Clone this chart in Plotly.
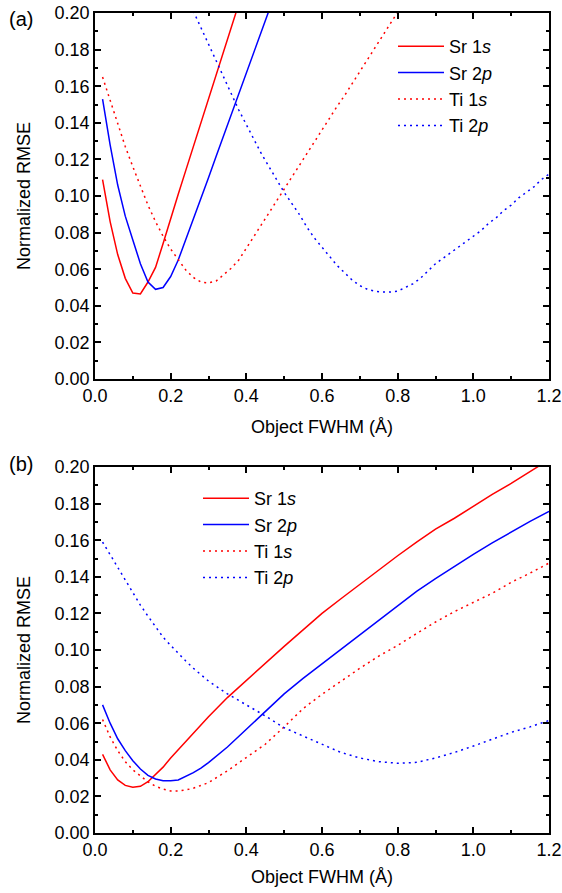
import plotly.graph_objects as go

# ---------------- Data: panel (a) ----------------
x_a_sr1s = [0.02, 0.04, 0.06, 0.08, 0.10, 0.12, 0.14, 0.16, 0.18, 0.20, 0.22, 0.24, 0.26, 0.28,
            0.30, 0.32, 0.34, 0.36, 0.38]
a_sr1s = [0.109, 0.086, 0.068, 0.055, 0.047, 0.0465, 0.053, 0.061, 0.074, 0.088, 0.101, 0.114,
          0.127, 0.140, 0.153, 0.166, 0.179, 0.192, 0.205]

x_a_sr2p = [0.02, 0.04, 0.06, 0.08, 0.10, 0.12, 0.14, 0.16, 0.18, 0.20, 0.22, 0.24, 0.26, 0.28,
            0.30, 0.32, 0.34, 0.36, 0.38, 0.40, 0.42, 0.44, 0.46]
a_sr2p = [0.153, 0.128, 0.106, 0.089, 0.076, 0.063, 0.053, 0.049, 0.050, 0.056, 0.065, 0.076,
          0.0874, 0.0988, 0.110, 0.1216, 0.133, 0.1444, 0.1558, 0.167, 0.1786, 0.190, 0.2014]

x_a_ti1s = [0.02, 0.04, 0.06, 0.08, 0.10, 0.12, 0.14, 0.16, 0.18, 0.20, 0.22, 0.24, 0.26, 0.28,
            0.30, 0.32, 0.34, 0.36, 0.38, 0.40, 0.42, 0.44, 0.46, 0.48, 0.50, 0.52, 0.54, 0.56,
            0.58, 0.60, 0.62, 0.64, 0.66, 0.68, 0.70, 0.72, 0.74, 0.76, 0.78, 0.80, 0.82]
a_ti1s = [0.165, 0.152, 0.139, 0.127, 0.116, 0.105, 0.095, 0.086, 0.078, 0.071, 0.0655, 0.0595,
          0.0555, 0.053, 0.0525, 0.0535, 0.057, 0.0605, 0.065, 0.0715, 0.0775, 0.084, 0.0905,
          0.097, 0.1035, 0.110, 0.1165, 0.123, 0.1295, 0.136, 0.1425, 0.149, 0.155, 0.1615,
          0.168, 0.1745, 0.181, 0.1875, 0.194, 0.2005, 0.207]

x_a_ti2p = [0.26, 0.28, 0.30, 0.32, 0.34, 0.36, 0.38, 0.40, 0.42, 0.44, 0.46, 0.48, 0.50, 0.52,
            0.54, 0.56, 0.58, 0.60, 0.62, 0.64, 0.66, 0.68, 0.70, 0.72, 0.74, 0.76, 0.78, 0.80,
            0.82, 0.84, 0.86, 0.88, 0.90, 0.92, 0.94, 0.96, 0.98, 1.00, 1.02, 1.04, 1.06, 1.08,
            1.10, 1.12, 1.14, 1.16, 1.18, 1.20]
a_ti2p = [0.201, 0.192, 0.183, 0.174, 0.165, 0.156, 0.147, 0.139, 0.131, 0.123, 0.116, 0.109,
          0.102, 0.096, 0.090, 0.083, 0.077, 0.072, 0.067, 0.062, 0.058, 0.054, 0.051, 0.049,
          0.048, 0.0475, 0.0475, 0.048, 0.050, 0.052, 0.055, 0.059, 0.063, 0.066, 0.069, 0.072,
          0.075, 0.078, 0.081, 0.085, 0.088, 0.092, 0.095, 0.099, 0.102, 0.105, 0.109, 0.112]

# ---------------- Data: panel (b) ----------------
x_b = [0.02, 0.04, 0.06, 0.08, 0.10, 0.12, 0.14, 0.16, 0.18, 0.20, 0.22, 0.24, 0.26, 0.28, 0.30,
       0.35, 0.40, 0.45, 0.50, 0.55, 0.60, 0.65, 0.70, 0.75, 0.80, 0.85, 0.90, 0.95, 1.00, 1.05,
       1.10, 1.15, 1.20]
b_sr1s = [0.043, 0.0345, 0.029, 0.026, 0.025, 0.0255, 0.028, 0.032, 0.036, 0.041, 0.0455, 0.050,
          0.0545, 0.059, 0.0635, 0.074, 0.0835, 0.093, 0.102, 0.111, 0.120, 0.128, 0.136, 0.144,
          0.1515, 0.159, 0.166, 0.172, 0.1785, 0.185, 0.191, 0.1975, 0.204]
b_sr2p = [0.070, 0.060, 0.0515, 0.045, 0.0395, 0.035, 0.0315, 0.0295, 0.0285, 0.0285, 0.029,
          0.031, 0.033, 0.0355, 0.0385, 0.047, 0.0565, 0.0665, 0.076, 0.0845, 0.0925, 0.1005,
          0.1085, 0.1165, 0.1245, 0.132, 0.139, 0.1458, 0.1523, 0.1585, 0.1645, 0.1703, 0.1758]
b_ti1s = [0.062, 0.0525, 0.045, 0.039, 0.0345, 0.031, 0.028, 0.0255, 0.024, 0.023, 0.023, 0.0235,
          0.0245, 0.026, 0.0275, 0.034, 0.041, 0.0485, 0.058, 0.068, 0.0758, 0.083, 0.090, 0.0967,
          0.1025, 0.109, 0.1153, 0.121, 0.126, 0.131, 0.137, 0.142, 0.1475]
b_ti2p = [0.159, 0.152, 0.145, 0.138, 0.131, 0.1245, 0.1185, 0.1125, 0.107, 0.1025, 0.098, 0.094,
          0.090, 0.0865, 0.083, 0.076, 0.070, 0.064, 0.0575, 0.053, 0.0485, 0.044, 0.041, 0.039,
          0.0381, 0.0386, 0.041, 0.044, 0.0475, 0.0512, 0.055, 0.058, 0.0615]

series_names = ["Sr 1<i>s</i>", "Sr 2<i>p</i>", "Ti 1<i>s</i>", "Ti 2<i>p</i>"]
x_tick_vals = [0.0, 0.2, 0.4, 0.6, 0.8, 1.0, 1.2]
y_tick_vals = [0.00, 0.02, 0.04, 0.06, 0.08, 0.10, 0.12, 0.14, 0.16, 0.18, 0.20]
x_title = "Object FWHM (Å)"
y_title = "Normalized RMSE"
panel_labels = ["(a)", "(b)"]

RED = "#ff0000"
BLUE = "#0000ff"
DOT = "2px,4px"
FONT = "Liberation Sans, Arial, sans-serif"
W, H = 562, 893

fig = go.Figure()

styles = [(RED, "solid"), (BLUE, "solid"), (RED, DOT), (BLUE, DOT)]
panel_a = [(x_a_sr1s, a_sr1s), (x_a_sr2p, a_sr2p), (x_a_ti1s, a_ti1s), (x_a_ti2p, a_ti2p)]
panel_b = [(x_b, b_sr1s), (x_b, b_sr2p), (x_b, b_ti1s), (x_b, b_ti2p)]

for (xs, ys), name, (col, dash) in zip(panel_a, series_names, styles):
    fig.add_trace(go.Scatter(x=xs, y=ys, mode="lines", name=name,
                             line=dict(color=col, width=1.5, dash=dash),
                             xaxis="x", yaxis="y", legend="legend"))
for (xs, ys), name, (col, dash) in zip(panel_b, series_names, styles):
    fig.add_trace(go.Scatter(x=xs, y=ys, mode="lines", name=name,
                             line=dict(color=col, width=1.5, dash=dash),
                             xaxis="x2", yaxis="y2", legend="legend2"))

# plot areas: (a) y 13..379 px, (b) y 467..833 px, x 95..549 px
ml, mr, mt, mb = 95, 13, 13, 60
pw = W - ml - mr
ph = H - mt - mb


def fy(py):
    return (H - py - mb) / ph


def fx(px):
    return (px - ml) / pw


TICKFONT = dict(family=FONT, size=18, color="black")
TITLEFONT = dict(family=FONT, size=18, color="black")

common_x = dict(range=[0, 1.2], tickvals=x_tick_vals, tickformat=".1f",
                ticks="inside", ticklen=6, tickwidth=1.5, tickcolor="black",
                minor=dict(dtick=0.1, ticks="inside", ticklen=3, tickwidth=1.5, tickcolor="black"),
                showline=True, linecolor="black", linewidth=1.5, mirror="ticks",
                showgrid=False, zeroline=False, tickfont=TICKFONT)
common_y = dict(range=[0, 0.2], tickvals=y_tick_vals, tickformat=".2f",
                ticks="inside", ticklen=6, tickwidth=1.5, tickcolor="black",
                minor=dict(dtick=0.01, ticks="inside", ticklen=3, tickwidth=1.5, tickcolor="black"),
                showline=True, linecolor="black", linewidth=1.5, mirror="ticks",
                showgrid=False, zeroline=False, tickfont=TICKFONT)

legend_common = dict(xref="container", yref="container", xanchor="left", yanchor="top",
                     bgcolor="rgba(0,0,0,0)", borderwidth=0, itemwidth=46,
                     font=dict(family=FONT, size=18, color="black"), tracegroupgap=0)

annotations = []
# axis titles
for cy_title_x, cy_mid in [(427, (13 + 379) / 2), (877, (467 + 833) / 2)]:
    annotations.append(dict(text=x_title, xref="paper", yref="paper", x=0.5, y=fy(cy_title_x),
                            xanchor="center", yanchor="middle", showarrow=False, font=TITLEFONT))
    annotations.append(dict(text=y_title, xref="paper", yref="paper", x=fx(24), y=fy(cy_mid),
                            xanchor="center", yanchor="middle", textangle=-90, showarrow=False,
                            font=TITLEFONT))
# panel labels
for lab, py in zip(panel_labels, [19, 464]):
    annotations.append(dict(text=lab, xref="paper", yref="paper", x=fx(7), y=fy(py),
                            xanchor="left", yanchor="middle", showarrow=False,
                            font=dict(family=FONT, size=20, color="black")))

fig.update_layout(
    width=W, height=H,
    margin=dict(l=ml, r=mr, t=mt, b=mb, autoexpand=False),
    paper_bgcolor="white", plot_bgcolor="white",
    font=dict(family=FONT, color="black"),
    xaxis=dict(domain=[0, 1], anchor="y", **common_x),
    yaxis=dict(domain=[fy(379), fy(13)], anchor="x", **common_y),
    xaxis2=dict(domain=[0, 1], anchor="y2", **common_x),
    yaxis2=dict(domain=[fy(833), fy(467)], anchor="x2", **common_y),
    legend=dict(x=393 / W, y=1 - 28 / H, **legend_common),
    legend2=dict(x=198 / W, y=1 - 480 / H, **legend_common),
    annotations=annotations,
)

fig.write_html("out.html", config={"displayModeBar": False},
               post_script="document.body.style.margin='0';")
